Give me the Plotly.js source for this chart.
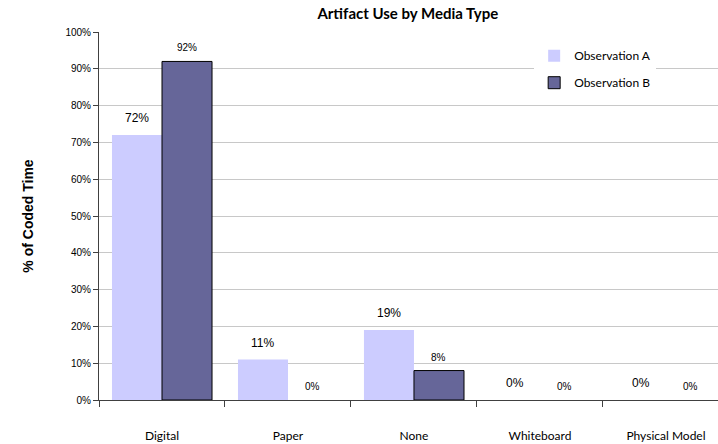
<!DOCTYPE html>
<html>
<head>
<meta charset="utf-8">
<script src="https://cdn.plot.ly/plotly-3.0.1.min.js"></script>
<style>html,body{margin:0;padding:0;background:#fff;}#chart{width:718px;height:444px;}</style>
</head>
<body>
<div id="chart"></div>
<script>
var categories = ["Digital", "Paper", "None", "Whiteboard", "Physical Model"];
var seriesNames = ["Observation A", "Observation B"];
var valuesA = [72, 11, 19, 0, 0];
var valuesB = [92, 0, 8, 0, 0];
var yTickVals = [0,10,20,30,40,50,60,70,80,90,100];
var yTickText = ["0%","10%","20%","30%","40%","50%","60%","70%","80%","90%","100%"];

var traceA = {
  type: 'bar', name: seriesNames[0], x: categories, y: valuesA, legendgroup: 'a',
  marker: {color: '#CCCCFF', line: {width: 0}},
  hoverinfo: 'none'
};
var traceB = {
  type: 'bar', name: seriesNames[1], x: categories, y: valuesB, legendgroup: 'b',
  marker: {color: '#666699', line: {color: '#000000', width: valuesB.map(function(v){ return v > 0 ? 1 : 0; })}},
  hoverinfo: 'none'
};

var annotations = [];
categories.forEach(function(c, i) {
  annotations.push({x: c, y: valuesA[i], xref: 'x', yref: 'y', text: valuesA[i] + '%',
    showarrow: false, yanchor: 'bottom', yshift: 8, xshift: -25,
    font: {family: 'Liberation Sans, Arial, sans-serif', size: 12, color: '#000'}});
  annotations.push({x: c, y: valuesB[i], xref: 'x', yref: 'y', text: valuesB[i] + '%',
    showarrow: false, yanchor: 'bottom', yshift: 6, xshift: 25,
    font: {family: 'Liberation Sans, Arial, sans-serif', size: 10, color: '#000'}});
});

var layout = {
  width: 718, height: 444,
  margin: {l: 99, r: 0, t: 32, b: 44, pad: 0},
  paper_bgcolor: '#fff', plot_bgcolor: '#fff',
  title: {text: '<b>Artifact Use by Media Type</b>', x: 0.568, xanchor: 'center', y: 0.968, yanchor: 'middle',
    font: {family: 'Lato, sans-serif', size: 15, color: '#000'}},
  barmode: 'group', bargap: 0.206, bargroupgap: 0,
  xaxis: {
    type: 'category', range: [-0.5, 4.413],
    showline: true, linecolor: '#404040', linewidth: 1,
    ticks: 'outside', tickson: 'boundaries', ticklen: 6, tickcolor: '#404040',
    tickfont: {family: 'Lato, sans-serif', size: 12, color: '#000'},
    ticklabelstandoff: 25, showgrid: false, zeroline: false, fixedrange: true
  },
  yaxis: {
    range: [0, 100], tickvals: yTickVals, ticktext: yTickText,
    showline: true, linecolor: '#404040', linewidth: 1,
    ticks: 'outside', ticklen: 5, tickcolor: '#404040',
    tickfont: {family: 'Liberation Sans, Arial, sans-serif', size: 10, color: '#000'},
    showgrid: true, gridcolor: '#c8c8c8', gridwidth: 1, zeroline: false,
    title: {text: '<b>% of Coded Time</b>', standoff: 28,
      font: {family: 'Liberation Sans, Arial, sans-serif', size: 14, color: '#000'}},
    fixedrange: true
  },
  legend: {x: 0.703, y: 0.975, xanchor: 'left', yanchor: 'top', bgcolor: '#fff',
    borderwidth: 0, traceorder: 'grouped', tracegroupgap: 8, itemwidth: 30,
    font: {family: 'Lato, sans-serif', size: 12, color: '#000'}},
  annotations: annotations,
  showlegend: true
};

Plotly.newPlot('chart', [traceA, traceB], layout, {displayModeBar: false, staticPlot: true});
</script>
</body>
</html>
